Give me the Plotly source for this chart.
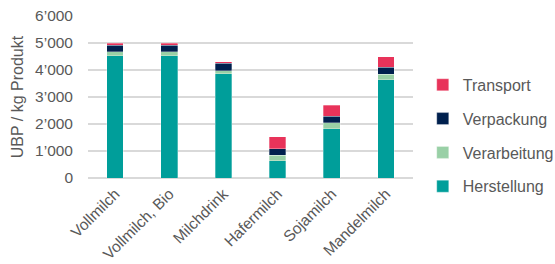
import plotly.graph_objects as go

categories = ["Vollmilch", "Vollmilch, Bio", "Milchdrink", "Hafermilch", "Sojamilch", "Mandelmilch"]
herstellung = [4530, 4530, 3860, 630, 1830, 3640]
verarbeitung = [140, 140, 120, 210, 210, 200]
verpackung = [250, 250, 270, 250, 240, 260]
transport = [70, 70, 60, 430, 420, 400]

tick_vals = [0, 1000, 2000, 3000, 4000, 5000, 6000]
tick_text = ["0", "1’000", "2’000", "3’000", "4’000", "5’000", "6’000"]

series = [
    ("Herstellung", herstellung, "#009E9A", 4),
    ("Verarbeitung", verarbeitung, "#99D0A6", 3),
    ("Verpackung", verpackung, "#00204E", 2),
    ("Transport", transport, "#E8335A", 1),
]

fig = go.Figure()
for name, vals, color, rank in series:
    fig.add_trace(go.Bar(
        x=categories, y=vals, name=name, legendgroup=name, legendrank=rank,
        marker=dict(color=color, line=dict(color="rgba(255,255,255,0.6)", width=0.5)),
    ))

font = "Liberation Sans, Arial, sans-serif"
fig.update_layout(
    barmode="stack",
    bargap=0.69,
    width=555, height=264,
    margin=dict(l=88, r=142, t=16, b=86, autoexpand=False),
    plot_bgcolor="white", paper_bgcolor="white",
    font=dict(family=font, size=15, color="#595959"),
    showlegend=True,
    legend=dict(
        traceorder="grouped", tracegroupgap=10,
        x=1.03, xanchor="left", y=0.26, yanchor="middle",
        font=dict(size=16, color="#595959"),
        itemwidth=30,
    ),
    xaxis=dict(tickangle=-45, showgrid=False, showline=False, ticks="",
               tickfont=dict(size=15.5), automargin=False, ticklabelstandoff=3),
    yaxis=dict(range=[0, 6000], tickvals=tick_vals, ticktext=tick_text,
               showgrid=True, gridcolor="#D9D9D9", gridwidth=1.5,
               zeroline=True, zerolinecolor="#D9D9D9", zerolinewidth=1.5,
               showline=False, ticks="", ticklen=0, automargin=False,
               ticklabelstandoff=14,
               title=dict(text="UBP / kg Produkt", font=dict(size=16), standoff=7),
               tickfont=dict(size=15.5)),
)

fig.write_html("out.html", config={"displayModeBar": False},
               post_script="document.body.style.margin='0';document.body.style.padding='0';")
